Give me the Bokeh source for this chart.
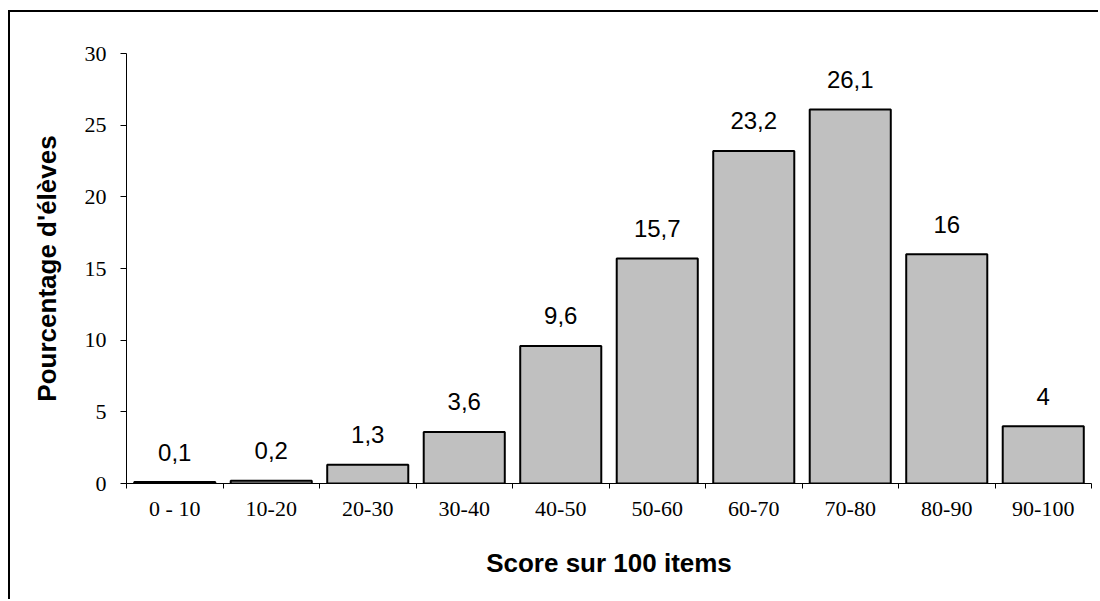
from bokeh.plotting import figure
from bokeh.models import ColumnDataSource, FixedTicker, Range1d
from bokeh.core.properties import value
from bokeh.embed import file_html
from bokeh.resources import INLINE

categories = ["0 - 10", "10-20", "20-30", "30-40", "40-50", "50-60", "60-70", "70-80", "80-90", "90-100"]
values = [0.1, 0.2, 1.3, 3.6, 9.6, 15.7, 23.2, 26.1, 16, 4]
value_labels = ["0,1", "0,2", "1,3", "3,6", "9,6", "15,7", "23,2", "26,1", "16", "4"]
y_ticks = [0, 5, 10, 15, 20, 25, 30]

centers = [i + 0.5 for i in range(len(categories))]
src = ColumnDataSource(dict(x=centers, top=values, lab=value_labels))

p = figure(width=1090, height=589, output_backend="svg", toolbar_location=None,
           x_range=Range1d(0, len(categories)), y_range=Range1d(0, 30),
           min_border_left=116, min_border_right=9, min_border_top=41, min_border_bottom=118)
p.margin = (10, 0, 0, 8)
p.styles = {"border-left": "2px solid black", "border-top": "2px solid black"}
p.outline_line_color = None
p.grid.visible = False
p.background_fill_color = "white"
p.border_fill_color = "white"

p.vbar(x="x", top="top", bottom=0, width=0.84, source=src,
       fill_color="#c0c0c0", line_color="black", line_width=2)
p.text(x="x", y="top", text="lab", source=src, text_align="center",
       text_baseline="alphabetic", y_offset=-30,
       text_font=value("Liberation Sans"), text_font_size="24px", text_color="black")

xa = p.xaxis[0]
xa.ticker = FixedTicker(ticks=centers, minor_ticks=list(range(len(categories) + 1)))
xa.major_label_overrides = {c: lab for c, lab in zip(centers, categories)}
xa.major_tick_out = 0
xa.major_tick_in = 0
xa.minor_tick_out = 5
xa.minor_tick_in = 0
xa.minor_tick_line_color = "black"
xa.axis_line_color = "black"
xa.major_label_text_font = "Liberation Serif"
xa.major_label_text_font_size = "22px"
xa.major_label_text_color = "black"
xa.major_label_standoff = 7
xa.axis_label = "Score sur 100 items"
xa.axis_label_text_font = "Liberation Sans"
xa.axis_label_text_font_style = "bold"
xa.axis_label_text_font_size = "26px"
xa.axis_label_text_color = "black"
xa.axis_label_standoff = 24

ya = p.yaxis[0]
ya.ticker = FixedTicker(ticks=y_ticks, minor_ticks=[])
ya.major_tick_out = 6
ya.major_tick_in = 0
ya.axis_line_color = "black"
ya.major_tick_line_color = "black"
ya.major_label_text_font = "Liberation Serif"
ya.major_label_text_font_size = "22px"
ya.major_label_text_color = "black"
ya.major_label_standoff = 14
ya.axis_label = "Pourcentage d'élèves"
ya.axis_label_text_font = "Liberation Sans"
ya.axis_label_text_font_style = "bold"
ya.axis_label_text_font_size = "26px"
ya.axis_label_text_color = "black"
ya.axis_label_standoff = 20

open("out.html", "w").write(file_html(p, INLINE))
